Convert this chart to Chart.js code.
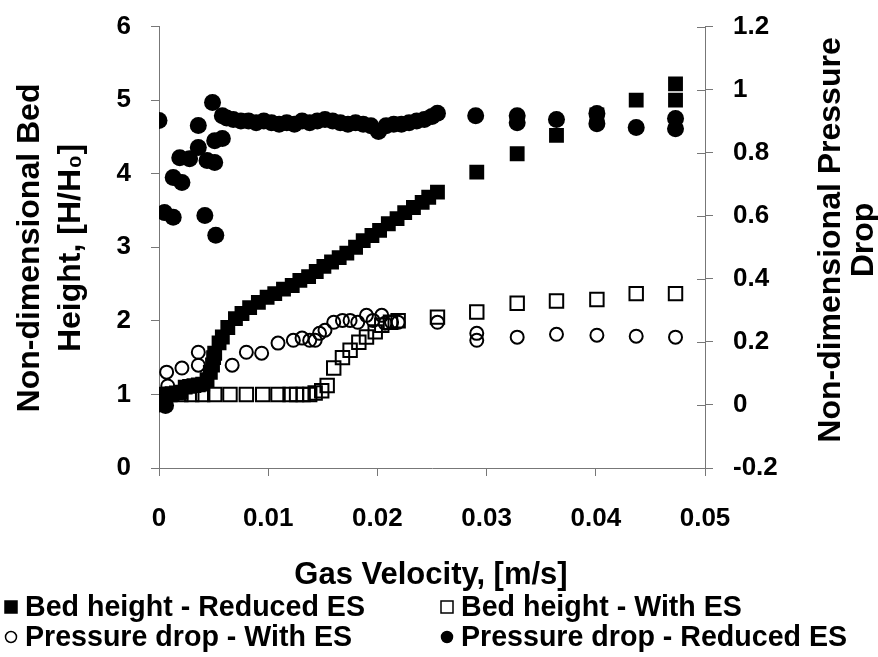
<!DOCTYPE html>
<html>
<head>
<meta charset="utf-8">
<script src="https://cdn.jsdelivr.net/npm/chart.js@4.4.1/dist/chart.umd.min.js"></script>
<style>
  html, body { margin: 0; padding: 0; background: #fff; }
  #wrap { width: 878px; height: 657px; }
</style>
</head>
<body>
<div id="wrap"><canvas id="chart" width="878" height="657"></canvas></div>
<script>
// Bed height - Reduced ES (left axis)
const bedRedX = [0, 0.0004, 0.0008, 0.0012, 0.0016, 0.002, 0.0024, 0.0028, 0.0032, 0.0036, 0.004, 0.0044, 0.0047, 0.0049, 0.005,
  0.0051, 0.0055, 0.0058, 0.0063, 0.007, 0.0076, 0.0083, 0.0091, 0.0099, 0.0106, 0.0114, 0.0122, 0.0129, 0.0137, 0.0144,
  0.0151, 0.0158, 0.0165, 0.0172, 0.018, 0.0187, 0.0195, 0.0202, 0.021, 0.0218, 0.0225, 0.0233, 0.0241, 0.0247, 0.0255,
  0.0291, 0.0328, 0.0364, 0.0401, 0.0437, 0.0473, 0.0473];
const bedRedY = [1.0, 1.0, 1.0, 1.01, 1.02, 1.03, 1.1, 1.11, 1.12, 1.13, 1.14, 1.2, 1.3, 1.4, 1.5,
  1.56, 1.7, 1.78, 1.91, 2.03, 2.1, 2.18, 2.25, 2.32, 2.37, 2.43, 2.48, 2.55, 2.6, 2.67,
  2.74, 2.8, 2.86, 2.92, 3.0, 3.09, 3.16, 3.23, 3.32, 3.39, 3.47, 3.54, 3.61, 3.68, 3.75,
  4.02, 4.27, 4.52, 4.8, 5.0, 5.0, 5.22];

// Bed height - With ES (left axis)
const bedWithX = [0, 0.001, 0.002, 0.003, 0.004, 0.0051, 0.0065, 0.008, 0.0095, 0.0109, 0.012, 0.0126, 0.0132, 0.0138,
  0.0143, 0.0149, 0.0154, 0.016, 0.0168, 0.0175, 0.0183, 0.019, 0.0198, 0.0204, 0.0212, 0.0219,
  0.0255, 0.0291, 0.0328, 0.0364, 0.0401, 0.0437, 0.0473];
const bedWithY = [1.0, 1.0, 1.0, 1.0, 1.0, 1.0, 1.0, 1.0, 1.0, 1.0, 1.0, 1.0, 1.0, 1.0,
  1.02, 1.05, 1.12, 1.36, 1.5, 1.6, 1.71, 1.78, 1.85, 1.94, 1.98, 2.0,
  2.05, 2.12, 2.24, 2.27, 2.29, 2.37, 2.37];

// Pressure drop - With ES (right axis)
const pressWithX = [0, 0.0007, 0.0008, 0.0021, 0.0036, 0.0036, 0.0067, 0.008, 0.0094, 0.0109, 0.0123, 0.0131, 0.0138,
  0.0143, 0.0147, 0.0152, 0.016, 0.0168, 0.0175, 0.0182, 0.019, 0.0196, 0.0204, 0.0207, 0.0213, 0.0219,
  0.0255, 0.0291, 0.0291, 0.0328, 0.0364, 0.0401, 0.0437, 0.0473];
const pressWithY = [0.0, 0.104, 0.06, 0.117, 0.167, 0.126, 0.126, 0.167, 0.164, 0.196, 0.205, 0.212, 0.205,
  0.205, 0.227, 0.237, 0.262, 0.268, 0.268, 0.262, 0.284, 0.268, 0.284, 0.259, 0.262, 0.262,
  0.262, 0.227, 0.205, 0.215, 0.224, 0.221, 0.218, 0.215];

// Pressure drop - Reduced ES (right axis)
const pressRedX = [0, 0.0005, 0.0006, 0.0013, 0.0013, 0.0019, 0.0021, 0.0028, 0.0036, 0.0036, 0.0042, 0.0044, 0.0049,
  0.0051, 0.0051, 0.0052, 0.0058, 0.0058,
  0.0062, 0.0068, 0.0075, 0.0082, 0.0089, 0.0096, 0.0103, 0.011, 0.0117, 0.0124, 0.0131, 0.0138, 0.0145,
  0.0152, 0.0159, 0.0166, 0.0173, 0.018, 0.0187, 0.0194, 0.0201, 0.0208, 0.0215, 0.0222, 0.0229, 0.0236,
  0.0243, 0.025, 0.0255, 0.029, 0.0328, 0.0328, 0.0364, 0.0401, 0.0401, 0.0437, 0.0473, 0.0473];
const pressRedY = [0.902, 0.61, -0.002, 0.595, 0.721, 0.784, 0.705, 0.781, 0.886, 0.816, 0.601, 0.775, 0.959,
  0.769, 0.838, 0.538, 0.845, 0.917,
  0.91, 0.905, 0.9, 0.9, 0.895, 0.9, 0.895, 0.89, 0.895, 0.89, 0.9, 0.895, 0.9,
  0.905, 0.9, 0.895, 0.89, 0.895, 0.89, 0.885, 0.867, 0.885, 0.89, 0.89, 0.895, 0.9,
  0.905, 0.915, 0.925, 0.917, 0.917, 0.895, 0.905, 0.924, 0.892, 0.88, 0.908, 0.876];

const xTicks = [0, 0.01, 0.02, 0.03, 0.04, 0.05];
const seriesNames = ['Bed height - Reduced ES', 'Bed height - With ES', 'Pressure drop - With ES', 'Pressure drop - Reduced ES'];

const FONT = '"Liberation Sans", Arial, sans-serif';
const toPoints = (xs, ys) => xs.map((x, i) => ({ x: x, y: ys[i] }));
const clear = 'rgba(255,255,255,0)';

// order: lower number is drawn on top
const datasets = [
  { label: seriesNames[0], data: toPoints(bedRedX, bedRedY), yAxisID: 'y', order: 2,
    pointStyle: 'rect', pointRadius: 10.5, backgroundColor: '#000', borderColor: '#000', borderWidth: 0 },
  { label: seriesNames[1], data: toPoints(bedWithX, bedWithY), yAxisID: 'y', order: 3,
    pointStyle: 'rect', pointRadius: 9.5, backgroundColor: clear, borderColor: '#000', borderWidth: 2 },
  { label: seriesNames[2], data: toPoints(pressWithX, pressWithY), yAxisID: 'y2', order: 4,
    pointStyle: 'circle', pointRadius: 6.5, backgroundColor: clear, borderColor: '#000', borderWidth: 2 },
  { label: seriesNames[3], data: toPoints(pressRedX, pressRedY), yAxisID: 'y2', order: 1,
    pointStyle: 'circle', pointRadius: 8.5, backgroundColor: '#000', borderColor: '#000', borderWidth: 0 }
];

const axisColor = '#777';

// titles + legend drawn by hand (right title reads bottom-to-top like the left one)
const decorations = {
  id: 'decorations',
  afterDraw(chart) {
    const ctx = chart.ctx;
    const area = chart.chartArea;
    ctx.save();

    // inner half of the right-axis ticks
    const y2 = chart.scales.y2;
    ctx.strokeStyle = axisColor;
    ctx.lineWidth = 1;
    y2.ticks.forEach(t => {
      const py = Math.round(y2.getPixelForValue(t.value)) + 0.5;
      ctx.beginPath();
      ctx.moveTo(area.right - 8, py);
      ctx.lineTo(area.right, py);
      ctx.stroke();
    });

    ctx.fillStyle = '#000';
    ctx.font = 'bold 32px ' + FONT;
    ctx.textAlign = 'center';
    ctx.textBaseline = 'alphabetic';

    const vText = (lines, baselines, cy) => {
      lines.forEach((t, i) => {
        ctx.save();
        ctx.translate(baselines[i], cy);
        ctx.rotate(-Math.PI / 2);
        ctx.fillText(t, 0, 0);
        ctx.restore();
      });
    };
    vText(['Non-dimensional Bed', 'Height, [H/H\u2080]'], [39, 80], 248);
    vText(['Non-dimensional Pressure', 'Drop'], [840, 873], 240);

    ctx.font = 'bold 31px ' + FONT;
    ctx.textBaseline = 'middle';
    ctx.fillText('Gas Velocity, [m/s]', (area.left + area.right) / 2 - 1, 575);

    // legend, two columns
    const cols = [11, 447];
    const rows = [607, 637];
    const slots = [[0, 0], [1, 0], [0, 1], [1, 1]];
    ctx.font = 'bold 28.6px ' + FONT;
    ctx.textAlign = 'left';
    datasets.forEach((ds, i) => {
      const cx = cols[slots[i][0]];
      const cy = rows[slots[i][1]];
      ctx.save();
      ctx.lineWidth = 1.5;
      ctx.strokeStyle = '#000';
      ctx.fillStyle = ds.backgroundColor;
      ctx.beginPath();
      if (ds.pointStyle === 'rect') {
        ctx.rect(cx - 6, cy - 6, 12, 12);
      } else {
        ctx.arc(cx, cy, 5.5, 0, Math.PI * 2);
      }
      ctx.fill();
      ctx.stroke();
      ctx.restore();
      ctx.fillText(ds.label, cx + 14, cy + 1);
    });
    ctx.restore();
  }
};

const tickFont = { family: FONT, size: 26, weight: 'bold', lineHeight: 0.5 };

new Chart(document.getElementById('chart'), {
  type: 'scatter',
  data: { datasets: datasets },
  options: {
    responsive: false,
    animation: false,
    layout: { padding: { top: 22, left: 0, right: 0, bottom: 0 } },
    plugins: { legend: { display: false }, tooltip: { enabled: false } },
    scales: {
      x: {
        type: 'linear', min: 0, max: 0.05,
        afterBuildTicks: s => { s.ticks = xTicks.map(v => ({ value: v })); },
        afterFit: s => { s.height = 189; },
        ticks: { color: '#000', font: tickFont, padding: 36, maxRotation: 0,
          callback: v => String(Number(v.toFixed(3))) },
        grid: { drawOnChartArea: false, drawTicks: true, tickLength: 8, color: axisColor },
        border: { display: true, color: axisColor, width: 1 }
      },
      y: {
        position: 'left', min: 0, max: 6,
        afterFit: s => { s.width = 159; },
        ticks: { stepSize: 1, color: '#000', font: tickFont, padding: 20 },
        grid: { drawOnChartArea: false, drawTicks: true, tickLength: 8, color: axisColor },
        border: { display: true, color: axisColor, width: 1 }
      },
      y2: {
        position: 'right', min: -0.2, max: 1.2,
        afterFit: s => { s.width = 173; },
        ticks: { stepSize: 0.2, color: '#000', font: tickFont, padding: 20,
          callback: v => String(Number(v.toFixed(2))) },
        grid: { drawOnChartArea: false, drawTicks: true, tickLength: 8, color: axisColor },
        border: { display: true, color: axisColor, width: 1 }
      }
    }
  },
  plugins: [decorations]
});
</script>
</body>
</html>
